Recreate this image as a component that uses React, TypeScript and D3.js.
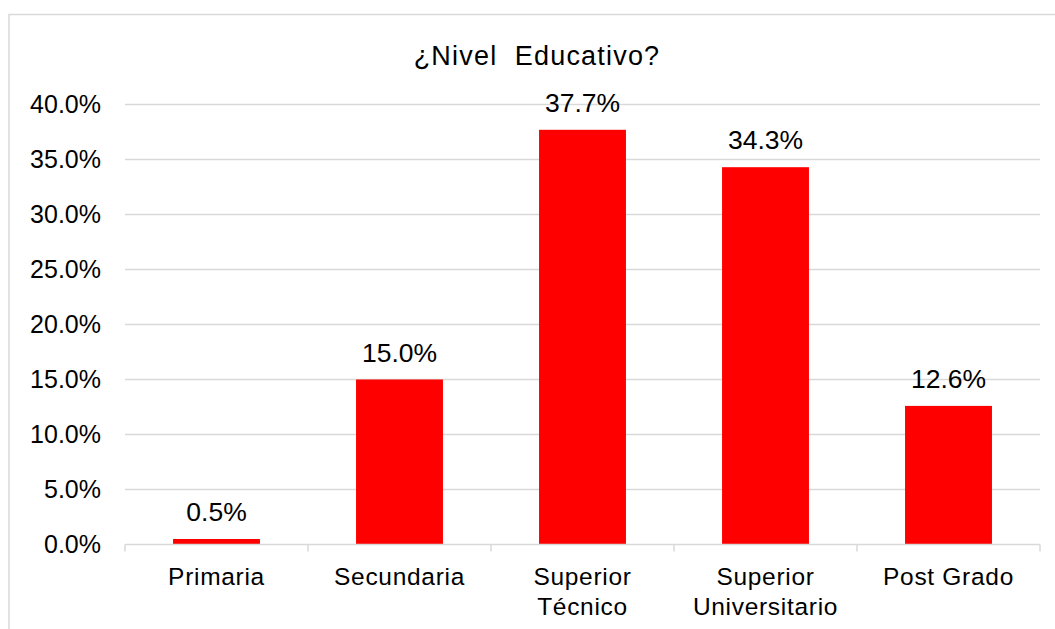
import React from "react";
import * as d3 from "d3";

const title = "¿Nivel  Educativo?";
const categories = ["Primaria", "Secundaria", "Superior\nTécnico", "Superior\nUniversitario", "Post Grado"];
const values = [0.5, 15.0, 37.7, 34.3, 12.6];
const yTicks = [0, 5, 10, 15, 20, 25, 30, 35, 40];

const W = 1055;
const H = 629;
const FONT = "'Liberation Sans', Arial, sans-serif";

export default function App() {
  const x = d3
    .scaleBand<string>()
    .domain(categories)
    .range([125, 1040])
    .paddingInner(0.525)
    .paddingOuter(0.2625);
  const y = d3.scaleLinear().domain([0, 40]).range([544.5, 104.5]);
  const fmt = (v: number) => d3.format(".1f")(v) + "%";
  const step = x.step();
  const boundaries = d3.range(categories.length + 1).map((i) => 125 + i * step);

  return (
    <svg
      width={W}
      height={H}
      style={{ position: "absolute", left: 0, top: 0, background: "#fff" }}
      fontFamily={FONT}
    >
      <rect x={9} y={14.5} width={1100} height={700} fill="#fff" stroke="#d9d9d9" strokeWidth={1.5} />
      <text
        x={537}
        y={65}
        textAnchor="middle"
        fontSize={27}
        letterSpacing={1.2}
        fill="#000"
        style={{ whiteSpace: "pre" }}
      >
        {title}
      </text>
      {yTicks.map((t) => (
        <g key={t}>
          {t > 0 && (
            <line x1={125} x2={1040} y1={y(t)} y2={y(t)} stroke="#d9d9d9" strokeWidth={1.3} />
          )}
          <text x={101} y={y(t) + 8.5} textAnchor="end" fontSize={25} fill="#000">
            {fmt(t)}
          </text>
        </g>
      ))}
      {categories.map((c, i) => (
        <g key={c}>
          <rect
            x={x(c)}
            y={y(values[i])}
            width={x.bandwidth()}
            height={y(0) - y(values[i])}
            fill="#ff0000"
          />
          <text
            x={(x(c) as number) + x.bandwidth() / 2}
            y={y(values[i]) - 18}
            textAnchor="middle"
            fontSize={26.5}
            fill="#000"
          >
            {fmt(values[i])}
          </text>
          {c.split("\n").map((line, j) => (
            <text
              key={j}
              x={(x(c) as number) + x.bandwidth() / 2}
              y={584.5 + j * 30.5}
              textAnchor="middle"
              fontSize={24.5}
              letterSpacing={0.7}
              fill="#000"
            >
              {line}
            </text>
          ))}
        </g>
      ))}
      <line x1={125} x2={1040} y1={y(0)} y2={y(0)} stroke="#d9d9d9" strokeWidth={1.5} />
      {boundaries.map((b, i) => (
        <line key={i} x1={b} x2={b} y1={y(0)} y2={y(0) + 7} stroke="#d9d9d9" strokeWidth={1.5} />
      ))}
    </svg>
  );
}
